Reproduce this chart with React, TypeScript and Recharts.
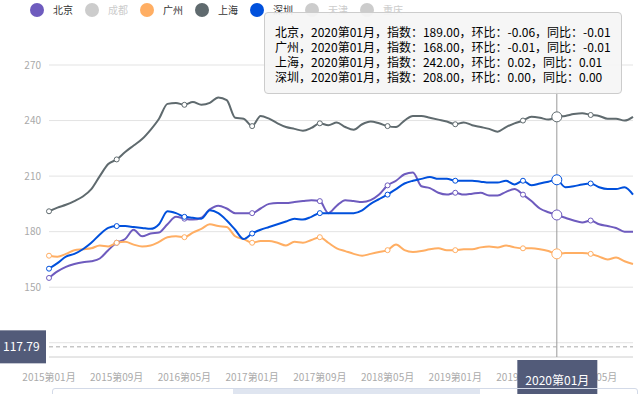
import { CartesianGrid, Line, LineChart, ReferenceLine, Tooltip, XAxis, YAxis } from 'recharts';

const years = [2015, 2016, 2017, 2018, 2019, 2020];
const monthNums = ['01', '02', '03', '04', '05', '06', '07', '08', '09', '10', '11', '12'];
const allMonths = years.flatMap((y) => monthNums.map((m) => `${y}第${m}月`));
const months = allMonths.slice(0, allMonths.indexOf('2020第10月') + 1);

const beijing = [
    155, 158.5, 161, 162.5, 163.5, 164, 165.5, 170, 174, 176, 181, 177.5, 179, 179.5, 184, 188, 187, 186.5, 187.5, 192,
    194, 192.5, 190, 190, 190, 192.5, 195, 195.5, 195.5, 196, 196.5, 197, 196.5, 190, 194, 197, 196.5, 196, 197, 200,
    205, 207.5, 211, 212, 204.5, 203.5, 201, 200, 201, 200, 200.5, 201, 199.5, 199.5, 201.5, 203, 200, 196.5, 192.5, 190.5,
    189, 187.5, 186, 185, 186, 184, 183, 182, 180, 180,
];
const guangzhou = [
    167, 166.5, 168, 170, 170.5, 171, 172.5, 172, 174, 174.5, 173, 172, 172.5, 174.5, 177, 177.5, 177, 179.5, 181.5, 184,
    183, 182.5, 177.5, 176, 174, 175, 175, 174, 172.5, 174.5, 174, 175.5, 177, 174, 171, 169.5, 168, 167, 168, 169,
    170, 173, 170, 169, 169.5, 170.5, 171, 170, 170, 170.5, 170.5, 171.5, 172, 171.5, 172.5, 171.5, 171, 171, 170.5, 169.5,
    168, 168.5, 168.5, 168.5, 168, 166.5, 165, 166, 164, 162.5,
];
const shanghai = [
    191, 193, 194.5, 196.5, 199, 203, 210, 216.5, 219, 223, 226.5, 230, 235, 241, 249, 249.5, 248.5, 250, 248.5, 249.5,
    252.5, 251, 241.5, 241, 237, 242.5, 241, 238.5, 236.5, 235.5, 234.5, 236, 238.5, 237.5, 239, 236.5, 235, 238, 239.5, 238.5,
    237, 236.5, 240, 242.5, 242.5, 241.5, 240.5, 239.5, 238, 239, 237.5, 236.5, 235.5, 234, 236.5, 238.5, 240, 242, 241.5, 240.5,
    242, 242.5, 243.5, 244, 243, 242.5, 241, 241, 240, 242,
];
const shenzhen = [
    160, 163, 166.5, 168, 170.5, 174, 178.5, 182, 183, 183, 182.5, 182, 181.5, 184, 191, 190, 188, 187.5, 187, 191.5,
    190, 186, 181, 176, 179, 181, 182.5, 184, 185.5, 187, 186.5, 188, 190, 190, 190, 190, 190, 191.5, 195, 197.5,
    200, 203, 206, 207.5, 208.5, 209.5, 208.5, 208.5, 207.5, 207.5, 207.5, 207, 206.5, 206.5, 207.5, 205.5, 207.5, 205, 206, 207,
    208, 204, 204.5, 205.5, 206, 204, 203, 203, 204, 200,
];

// tooltip extras for the hovered month, in line order
const momChange = [-0.06, -0.01, 0.02, 0.0];
const yoyChange = [-0.01, -0.01, 0.01, 0.0];

const legendNames = ['北京', '成都', '广州', '上海', '深圳', '天津', '重庆'];
const hiddenSeries = ['成都', '天津', '重庆'];
const yTicks = [120, 150, 180, 210, 240, 270];

const hoverMonth = '2020第01月';
const pointerValue = 117.79;

const colors: Record<string, string> = {
    北京: '#6e5bbe',
    广州: '#ffae63',
    上海: '#5f6a6e',
    深圳: '#0050dc',
};

const chartData = months.map((month, i) => ({
    month,
    北京: beijing[i],
    广州: guangzhou[i],
    上海: shanghai[i],
    深圳: shenzhen[i],
}));

const lineOrder = ['北京', '广州', '上海', '深圳'];
const FONT = "'Noto Sans CJK SC', 'Noto Sans', sans-serif";
const pointerBg = '#525b79';

function renderDot(color: string) {
    return (props: any) => {
        const { cx, cy, index } = props;
        if (index % 8 !== 0) return <g key={`d-${index}`} />;
        return <circle key={`d-${index}`} cx={cx} cy={cy} r={2.5} fill="#fff" stroke={color} strokeWidth={1} />;
    };
}

function LegendRow() {
    return (
        <div style={{ position: 'absolute', left: 0, top: 0, display: 'flex', alignItems: 'center', paddingLeft: 30, height: 19, fontFamily: FONT }}>
            {legendNames.map((name) => {
                const off = hiddenSeries.includes(name);
                return (
                    <div key={name} style={{ display: 'flex', alignItems: 'center', marginRight: 12 }}>
                        <span style={{ width: 14, height: 14, borderRadius: 7, background: off ? '#ccc' : colors[name] }} />
                        <span style={{ marginLeft: 9, fontSize: 10, color: off ? '#ccc' : '#333' }}>{name}</span>
                    </div>
                );
            })}
        </div>
    );
}

function TooltipBox({ label, payload }: any) {
    if (!payload || !payload.length) return null;
    return (
        <div
            style={{
                background: 'rgba(245,245,245,0.92)',
                border: '1px solid #ccc',
                borderRadius: 4,
                padding: '11px 10px 9px',
                fontFamily: FONT,
                fontSize: 12,
                lineHeight: '15px',
                color: '#000',
                whiteSpace: 'nowrap',
            }}
        >
            {payload.map((p: any) => {
                const k = lineOrder.indexOf(p.name);
                return (
                    <div key={p.name}>
                        {`${p.name}，${label}，指数：${Number(p.value).toFixed(2)}，环比：${momChange[k].toFixed(2)}，同比：${yoyChange[k].toFixed(2)}`}
                    </div>
                );
            })}
        </div>
    );
}

function ValueTag({ viewBox }: any) {
    const { x, y } = viewBox;
    return (
        <g>
            <rect x={x - 49} y={y - 16.5} width={46} height={33} fill={pointerBg} />
            <text x={x - 46} y={y} dy="0.36em" fill="#fff" fontSize={12} fontFamily={FONT}>
                {pointerValue.toFixed(2)}
            </text>
        </g>
    );
}

function MonthTag({ viewBox }: any) {
    const { x, y, height } = viewBox;
    const top = y + height + 3;
    return (
        <g>
            <rect x={x - 39.5} y={top} width={80} height={36} fill={pointerBg} />
            <text x={x + 0.5} y={top + 25} textAnchor="middle" fill="#fff" fontSize={12} fontFamily={FONT}>
                {hoverMonth}
            </text>
        </g>
    );
}

export default function App() {
    return (
        <div style={{ position: 'absolute', left: 0, top: 0, width: 642, height: 394, overflow: 'hidden', background: '#fff' }}>
            <LineChart width={642} height={394} data={chartData} margin={{ top: 65, right: 9, bottom: 7, left: 0 }}>
                <CartesianGrid vertical={false} stroke="#e3e3e3" />
                <XAxis
                    dataKey="month"
                    interval={7}
                    height={30}
                    tickLine={false}
                    tickMargin={11}
                    axisLine={{ stroke: '#dcdcdc' }}
                    tick={{ fontSize: 10, fill: '#aaa', fontFamily: FONT }}
                />
                <YAxis
                    width={49}
                    domain={[112.3, 270]}
                    ticks={yTicks}
                    axisLine={false}
                    tickLine={false}
                    tick={{ fontSize: 10, fill: '#aaa', fontFamily: FONT }}
                />
                <Tooltip
                    defaultIndex={60}
                    position={{ x: 264, y: 12 }}
                    cursor={{ stroke: '#999', strokeWidth: 1 }}
                    wrapperStyle={{ zIndex: 10 }}
                    content={<TooltipBox />}
                    isAnimationActive={false}
                />
                {lineOrder.map((name) => (
                    <Line
                        key={name}
                        type="monotone"
                        dataKey={name}
                        name={name}
                        stroke={colors[name]}
                        strokeWidth={2}
                        dot={renderDot(colors[name])}
                        activeDot={{ r: 5, fill: '#fff', stroke: colors[name], strokeWidth: 1 }}
                        isAnimationActive={false}
                    />
                ))}
                <ReferenceLine y={pointerValue} stroke="#aaa" strokeDasharray="4 3" zIndex={3000} label={<ValueTag />} />
                <ReferenceLine x={hoverMonth} stroke="none" zIndex={3000} label={<MonthTag />} />
            </LineChart>
            <LegendRow />
            <div style={{ position: 'absolute', left: 52, top: 388, width: 584, height: 20, border: '1px solid #d3dae8', borderRadius: 3 }} />
            <div style={{ position: 'absolute', left: 233, top: 389, width: 247, height: 20, background: '#dfe5f0' }} />
        </div>
    );
}
